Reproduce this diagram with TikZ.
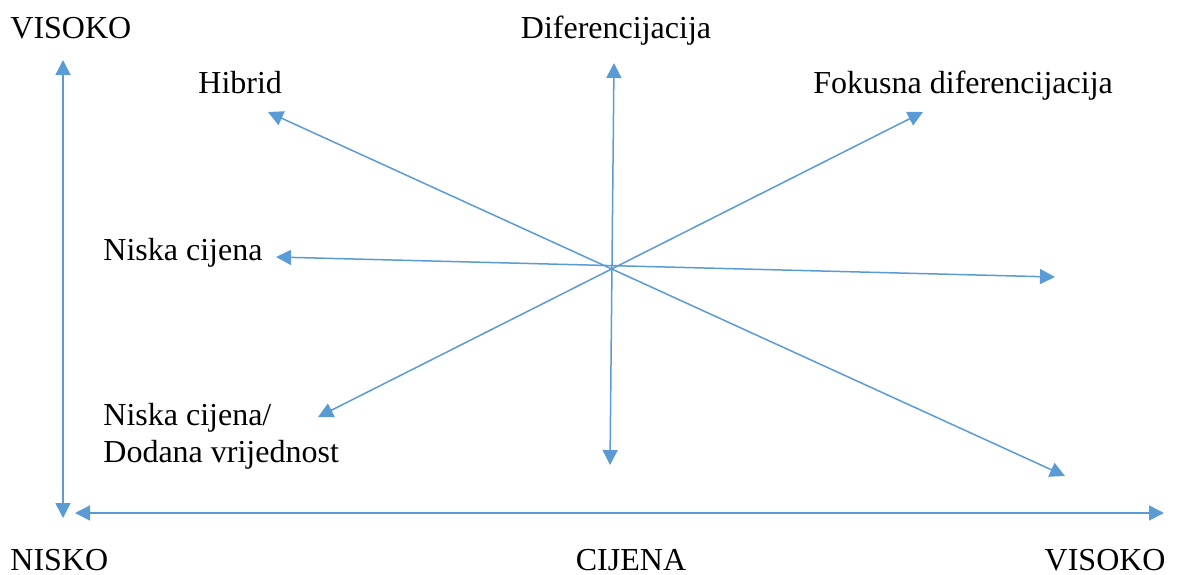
\documentclass[tikz,border=0pt]{standalone}
\usepackage{fontspec}
\setmainfont{Liberation Serif}
\usepackage{tikz}
\usetikzlibrary{arrows.meta}
\definecolor{accblue}{RGB}{91,155,213}

\begin{document}
\begin{tikzpicture}[line cap=round,line join=round,x=0.5pt,y=-0.5pt,
  >={Triangle[length=7.5pt,width=7.5pt]},
  ray/.style={line width=0.75pt,color=accblue,<->},
  lbl/.style={inner sep=0pt,font=\fontsize{16}{19}\selectfont}]
\useasboundingbox (0,0) rectangle (1177,574);
% axes
\coordinate (ytop) at (63,60);
\coordinate (ybot) at (63,518);
\coordinate (xl) at (75,513);
\coordinate (xr) at (1164,513);
\draw [ray] (ybot)-- (ytop);
\draw [ray] (xl)-- (xr);
% ray ends
\coordinate (up) at (614,63);%dif
\coordinate (dn) at (610,465);
\coordinate (lt) at (276,257);%niska
\coordinate (rt) at (1055,277);
\coordinate (ul) at (268,112);%hibrid
\coordinate (dr) at (1065,476);
\coordinate (ur) at (923,112);%fokusna
\coordinate (dl) at (318,417);%niska/dodana
\draw [ray] (dn)-- (up);
\draw [ray] (lt)-- (rt);
\draw [ray] (ul)-- (dr);
\draw [ray] (dl)-- (ur);
% labels
\node[lbl,anchor=base west] (visokoy) at (10,38) {VISOKO};
\node[lbl,anchor=base] (dif) at (616,38) {Diferencijacija};
\node[lbl,anchor=base west] (hib) at (198,93) {Hibrid};
\node[lbl,anchor=base west] (fok) at (813,93) {Fokusna diferencijacija};
\node[lbl,anchor=base west] (nc) at (103,260) {Niska cijena};
\node[lbl,anchor=base west] (ncd) at (103,425) {Niska cijena/};
\node[lbl,anchor=base west] (dv) at (103,462) {Dodana vrijednost};
\node[lbl,anchor=base west] (nisko) at (10,570) {NISKO};
\node[lbl,anchor=base] (cij) at (631,570) {CIJENA};
\node[lbl,anchor=base east] (visokox) at (1166,570) {VISOKO};
\end{tikzpicture}
\end{document}
